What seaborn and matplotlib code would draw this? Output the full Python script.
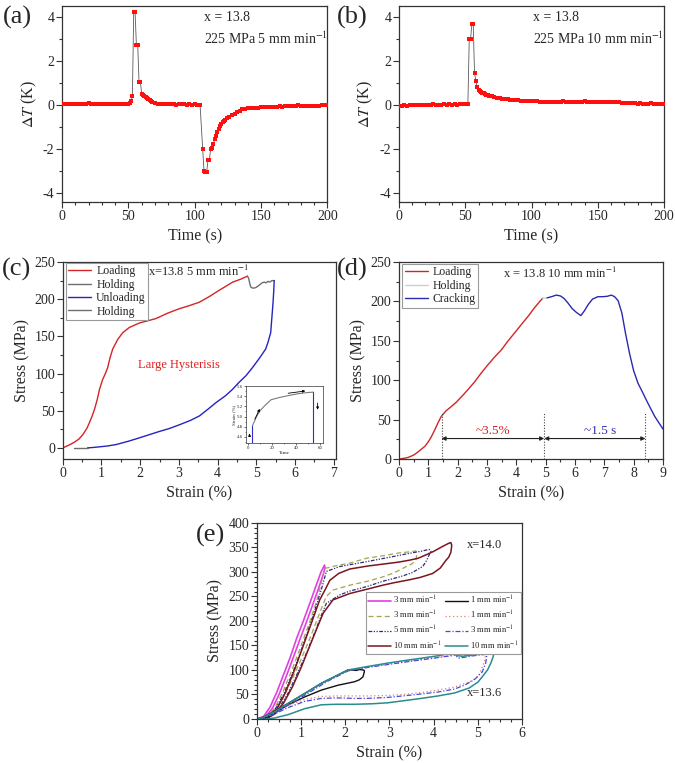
"""Multi-panel recreation: temperature change (a, b) and stress-strain loops (c, d, e)."""

import matplotlib

matplotlib.use("Agg")

import matplotlib.pyplot as plt
import seaborn as sns
from matplotlib.ticker import AutoMinorLocator, MultipleLocator

# ---------------- (a) x = 13.8, 225 MPa, 5 mm/min ----------------
a_time = [0, 2, 4, 6, 8, 10, 12, 14, 16, 18, 20, 22, 24, 26, 28, 30, 32, 34, 36, 38,
          40, 42, 44, 46, 48, 50,
          51, 52, 53, 54, 55, 56, 57, 58, 59, 60, 61, 62, 63, 64, 65, 66, 67, 68,
          70, 72, 74, 76, 78, 80, 82, 84, 86, 88, 90, 92, 94, 96, 98, 100, 102, 104,
          106, 107, 108, 109, 110, 111, 112, 113, 114, 115, 116, 117, 118, 119, 120,
          121, 122, 123, 124,
          126, 128, 130, 132, 134, 136, 138, 140, 142, 144, 146, 148, 150, 152, 154,
          156, 158, 160, 162, 164, 166, 168, 170, 172, 174, 176, 178, 180, 182, 184,
          186, 188, 190, 192, 194, 196, 198, 200]
a_dT = [0.03, 0.04, 0.04, 0.06, 0.07, 0.06, 0.07, 0.06, 0.05, 0.06, 0.08, 0.07, 0.06,
        0.05, 0.06, 0.05, 0.04, 0.05, 0.06, 0.04, 0.03, 0.05, 0.04, 0.03, 0.04, 0.05,
        0.09, 0.18, 0.40, 4.25, 4.25, 2.75, 2.75, 1.05, 1.05, 0.52, 0.47, 0.41, 0.36,
        0.31, 0.27, 0.23, 0.19, 0.16,
        0.11, 0.07, 0.05, 0.03, 0.04, 0.03, 0.04, 0.03, 0.02, 0.03, 0.04, 0.03, 0.02,
        0.03, 0.02, 0.03, 0.02, 0.02,
        -2.0, -3.0, -3.05, -3.05, -2.5, -2.5, -2.0, -1.95, -1.75, -1.55, -1.38, -1.22,
        -1.08, -0.96, -0.86, -0.78, -0.72, -0.66, -0.6,
        -0.52, -0.45, -0.38, -0.31, -0.25, -0.19, -0.16, -0.15, -0.14, -0.13, -0.12,
        -0.11, -0.10, -0.10, -0.09, -0.08, -0.08, -0.07, -0.07, -0.06, -0.07, -0.05,
        -0.05, -0.04, -0.03, -0.02, -0.01, -0.02, -0.03, -0.03, -0.04, -0.03, -0.02,
        -0.03, -0.02, -0.01, 0.0, -0.01]

# ---------------- (b) x = 13.8, 225 MPa, 10 mm/min ----------------
b_time = [0, 2, 4, 6, 8, 10, 12, 14, 16, 18, 20, 22, 24, 26, 28, 30, 32, 34, 36, 38,
          40, 42, 44, 46, 48, 50, 52,
          53, 54, 55, 56, 57, 58, 59, 60, 61, 62, 63, 64, 65, 66, 67, 68,
          70, 72, 74, 76, 78, 80, 82, 84, 86, 88, 90, 92, 94, 96, 98, 100,
          102, 104, 106, 108, 110, 112, 114, 116, 118, 120, 122, 124, 126, 128, 130,
          132, 134, 136, 138, 140, 142, 144, 146, 148, 150, 152, 154, 156, 158, 160,
          162, 164, 166, 168, 170, 172, 174, 176, 178, 180, 182, 184, 186, 188, 190,
          192, 194, 196, 198, 200]
b_dT = [-0.02, -0.02, -0.01, -0.02, -0.01, 0.0, -0.01, 0.0, 0.0, 0.01, 0.0, 0.01, 0.02,
        0.03, 0.02, 0.01, 0.02, 0.03, 0.02, 0.03, 0.02, 0.03, 0.02, 0.03, 0.04, 0.03, 0.05,
        3.0, 3.0, 3.7, 3.7, 1.45, 1.1, 0.82, 0.7, 0.65, 0.6, 0.57, 0.53, 0.5, 0.48,
        0.45, 0.43,
        0.4, 0.37, 0.34, 0.31, 0.29, 0.27, 0.26, 0.25, 0.24, 0.23, 0.22, 0.21, 0.2,
        0.19, 0.19, 0.18,
        0.17, 0.17, 0.16, 0.15, 0.16, 0.15, 0.16, 0.15, 0.14, 0.15, 0.16, 0.17, 0.16,
        0.15, 0.14, 0.15, 0.14, 0.15, 0.16, 0.17, 0.16, 0.15, 0.14, 0.13, 0.14, 0.13,
        0.12, 0.13, 0.12, 0.13, 0.14, 0.13, 0.12, 0.11, 0.10, 0.09, 0.10, 0.09, 0.08,
        0.07, 0.08, 0.07, 0.06, 0.07, 0.08, 0.07, 0.06, 0.07, 0.06, 0.05]

# ---------------- (c) x = 13.8, 5 mm/min cycle ----------------
c_load_strain = [0, 0.15, 0.3, 0.42, 0.52, 0.62, 0.69, 0.76, 0.82, 0.89, 0.95, 1.03,
                 1.1, 1.16, 1.22, 1.29, 1.36, 1.42, 1.55, 1.72, 1.85, 1.98, 2.2, 2.41,
                 2.7, 3.0, 3.25, 3.53, 3.8, 4.04, 4.2, 4.39, 4.6, 4.77]
c_load_stress = [0, 3.5, 7.6, 12, 18, 26, 34, 43, 52, 65, 79, 92, 100, 108, 121, 133,
                 140, 146, 155, 162, 165, 168, 171, 174, 181, 187, 191, 196, 204, 212,
                 217, 223, 227, 231]
c_hold1_strain = [4.77, 4.8, 4.83, 4.86, 4.9, 4.95, 5.0, 5.05, 5.1, 5.15, 5.2, 5.25,
                  5.3, 5.35, 5.4, 5.46]
c_hold1_stress = [231, 228, 221, 216, 215, 215, 216, 218, 220, 222, 223, 222, 224, 223,
                  225, 225]
c_unload_strain = [5.46, 5.45, 5.43, 5.4, 5.37, 5.3, 5.24, 5.15, 5.07, 4.9, 4.73, 4.55,
                   4.39, 4.2, 3.96, 3.75, 3.53, 3.3, 3.01, 2.75, 2.49, 2.25, 1.98, 1.7,
                   1.38, 1.15, 0.95, 0.8, 0.64]
c_unload_stress = [225, 212, 195, 175, 155, 142, 133, 126, 120, 108, 97, 88, 79, 70, 61,
                   52, 43, 37, 31, 26, 22, 18, 13.5, 9, 4.5, 2.5, 1.4, 0.6, 0]
c_hold2_strain = [0.64, 0.3]
c_hold2_stress = [0, 0]

# inset of (c): strain vs time
inset_time = [3.3, 6.8, 10, 13.6, 19, 27, 35.4, 42, 49, 54.5]
inset_strain = [4.81, 5.0, 5.12, 5.21, 5.33, 5.38, 5.42, 5.45, 5.47, 5.48]

# ---------------- (d) x = 13.8, 10 mm/min, cracking ----------------
d_load_strain = [0, 0.15, 0.31, 0.5, 0.65, 0.78, 0.88, 1.0, 1.1, 1.22, 1.33, 1.44, 1.6,
                 1.78, 1.95, 2.13, 2.35, 2.58, 2.8, 3.03, 3.25, 3.49, 3.7, 3.94, 4.2,
                 4.4, 4.6, 4.8, 4.9]
d_load_stress = [0, 0.8, 2, 5, 9, 13, 16, 22, 28, 37, 46, 54, 61, 66.5, 72, 79, 88, 98,
                 109, 119.5, 129, 138.5, 149, 160, 172, 181, 191, 200, 204]
d_hold_strain = [4.9, 5.05]
d_hold_stress = [204, 204.5]
d_crack_strain = [5.05, 5.2, 5.36, 5.5, 5.62, 5.76, 5.9, 6.05, 6.2, 6.32, 6.45, 6.6,
                  6.78, 6.95, 7.1, 7.24, 7.35, 7.47, 7.6, 7.72, 7.86, 8.0, 8.15, 8.3,
                  8.43, 8.58, 8.72, 8.86, 9.0]
d_crack_stress = [204.5, 206, 208, 207, 204, 198, 191, 186, 182, 188, 196, 203, 206, 206,
                  206.5, 208, 206, 201, 185, 160, 134, 112, 96, 85, 75, 64, 54, 46, 38]
d_marks = [1.45, 4.95, 8.4]

# ---------------- (e) rate dependence, x = 14.0 and x = 13.6 ----------------
e_mag_strain = [0, 0.15, 0.3, 0.45, 0.6, 0.75, 0.9, 1.05, 1.2, 1.35, 1.45, 1.53, 1.54,
                1.5, 1.4, 1.25, 1.1, 0.95, 0.8, 0.65, 0.5, 0.35, 0.2, 0.05]
e_mag_stress = [0, 5, 25, 55, 90, 125, 165, 200, 237, 275, 300, 314, 308, 295, 268, 230,
                193, 157, 120, 84, 50, 22, 5, 0]
e_olive_strain = [0, 0.2, 0.4, 0.6, 0.8, 1.0, 1.2, 1.35, 1.45, 1.53, 1.8, 2.1, 2.48,
                  2.85, 3.23, 3.45, 3.6,
                  3.62, 3.6, 3.5, 3.38, 3.1, 2.85, 2.5, 2.1, 1.72, 1.57, 1.47, 1.35, 1.2,
                  1.0, 0.8, 0.6, 0.4, 0.2, 0.08]
e_olive_stress = [0, 3, 22, 58, 102, 150, 200, 240, 275, 307, 313, 318, 328, 333, 339,
                  341, 343,
                  338, 324, 316, 311, 298, 290, 281, 273, 263, 250, 228, 200, 165, 122,
                  82, 45, 17, 3, 0]
e_navy_strain = [0, 0.2, 0.4, 0.6, 0.8, 1.0, 1.2, 1.35, 1.47, 1.57, 1.87, 2.48, 3.0,
                 3.45, 3.7, 3.9,
                 3.94, 3.9, 3.82, 3.75, 3.5, 3.23, 2.85, 2.48, 2.1, 1.87, 1.57, 1.45, 1.3,
                 1.1, 0.9, 0.7, 0.5, 0.3, 0.12]
e_navy_stress = [0, 2, 18, 50, 92, 140, 192, 233, 268, 301, 311, 321, 330, 338, 342, 346,
                 342, 335, 320, 311, 298, 290, 281, 270, 261, 253, 236, 210, 175, 130, 90,
                 52, 22, 5, 0]
e_dred_strain = [0, 0.25, 0.45, 0.65, 0.85, 1.05, 1.25, 1.42, 1.55, 1.65, 1.85, 2.1,
                 2.5, 2.85, 3.2, 3.45, 3.65, 3.83, 4.0, 4.2, 4.33, 4.39,
                 4.41, 4.39, 4.34, 4.28, 4.15, 3.98, 3.7, 3.45, 3.1, 2.85, 2.5, 2.1, 1.72,
                 1.5, 1.38, 1.2, 1.0, 0.8, 0.6, 0.4, 0.2]
e_dred_stress = [0, 3, 20, 55, 100, 150, 200, 243, 265, 283, 297, 306, 312, 316, 320,
                 324, 328, 335, 342, 352, 358, 360,
                 354, 340, 330, 324, 308, 297, 289, 284, 278, 273, 265, 256, 243, 216,
                 190, 150, 105, 65, 32, 10, 0]
e_black_strain = [0, 0.1, 0.4, 0.71, 1.08, 1.46, 1.84, 2.06, 2.15, 2.25, 2.32, 2.4,
                  2.43, 2.43, 2.4, 2.32, 2.21, 2.0, 1.84, 1.46, 1.08, 0.71, 0.33, 0.1]
e_black_stress = [0, 2, 16, 32, 52, 73, 90, 100, 100, 99, 101, 100, 99, 96, 86, 80, 76,
                  72, 69, 59, 45, 29, 8, 0]
e_dot_strain = [0, 0.4, 0.8, 1.2, 1.6, 2.06, 2.5, 2.96, 3.5, 4.0, 4.45, 4.55, 4.6, 4.8,
                5.0, 5.15,
                5.17, 5.15, 5.08, 5.0, 4.8, 4.47, 4.1, 3.72, 3.3, 2.96, 2.5, 2.21, 1.8,
                1.46, 1.08, 0.7, 0.35, 0.05]
e_dot_stress = [0, 14, 35, 57, 79, 99, 106, 112, 119, 125, 131, 129, 128, 130, 132, 133,
                128, 118, 100, 86, 75, 65, 59, 54, 50, 48, 47, 47, 47, 46, 40, 27, 10, 0]
e_dashdot_strain = [0, 0.4, 0.8, 1.2, 1.6, 2.06, 2.5, 2.96, 3.5, 4.0, 4.4, 4.5, 4.55,
                    4.7, 4.9, 5.1, 5.2,
                    5.2, 5.18, 5.1, 4.92, 4.7, 4.47, 4.1, 3.72, 3.3, 2.96, 2.5, 2.21, 1.8,
                    1.46, 1.08, 0.7, 0.35, 0.05]
e_dashdot_stress = [0, 13, 33, 55, 77, 98, 105, 111, 118, 124, 129, 131, 124, 126, 129,
                    131, 132,
                    128, 114, 96, 80, 69, 61, 55, 51, 47, 44, 42, 42, 43, 42, 36, 23, 8, 0]
e_teal_strain = [0, 0.1, 0.4, 0.71, 1.08, 1.46, 1.84, 2.06, 2.5, 2.96, 3.4, 3.72, 4.1,
                 4.45, 4.52, 4.56, 4.65, 4.85, 5.1, 5.33, 5.36,
                 5.35, 5.3, 5.22, 5.1, 5.0, 4.8, 4.47, 4.1, 3.72, 3.3, 2.96, 2.6, 2.21,
                 1.8, 1.46, 1.08, 0.71, 0.4, 0.18]
e_teal_stress = [0, 1, 15, 32, 52, 73, 90, 100, 107, 114, 120, 124, 129, 135, 137, 129,
                 128, 130, 133, 135, 135,
                 128, 115, 100, 86, 75, 63, 53, 47, 42, 37, 33, 31, 30, 30, 29, 21, 9, 2, 0]

sns.set_theme(style="ticks")
plt.rcParams["font.family"] = ["Liberation Serif", "DejaVu Serif"]
plt.rcParams["mathtext.fontset"] = "stix"
plt.rcParams["axes.unicode_minus"] = False

SPINE = "#333333"


def _frame(ax, xlim, ylim, xstep, ystep, xminor=2, yminor=2, labelsize=10):
    """Box frame with outward ticks on bottom/left, Origin style."""
    ax.set_xlim(*xlim)
    ax.set_ylim(*ylim)
    ax.xaxis.set_major_locator(MultipleLocator(xstep))
    ax.yaxis.set_major_locator(MultipleLocator(ystep))
    ax.xaxis.set_minor_locator(AutoMinorLocator(xminor))
    ax.yaxis.set_minor_locator(AutoMinorLocator(yminor))
    for spine in ax.spines.values():
        spine.set_visible(True)
        spine.set_color(SPINE)
        spine.set_linewidth(0.9)
    ax.tick_params(which="both", direction="out", top=False, right=False,
                   bottom=True, left=True, color=SPINE, width=0.8,
                   labelsize=labelsize, pad=1.5)
    ax.tick_params(which="major", length=4)
    ax.tick_params(which="minor", length=2)
    ax.grid(False)


def _curve(ax, x, y, color, lw=1.0, ls="-", label=None):
    """Draw one ordered branch with seaborn and return its Line2D."""
    sns.lineplot(x=x, y=y, sort=False, estimator=None, color=color,
                 linewidth=lw, linestyle=ls, ax=ax)
    line = ax.lines[-1]
    if label is not None:
        line.set_label(label)
    return line


def _legend(ax, handles, **kws):
    leg = ax.legend(handles=handles, frameon=True, fancybox=False, framealpha=1,
                    edgecolor="#9a9a9a", **kws)
    leg.get_frame().set_linewidth(0.8)
    return leg


def _dt_panel(ax, time, dT, line1, line2, text_x):
    _curve(ax, time, dT, "#5a5a5a", lw=0.6)
    sns.scatterplot(x=time, y=dT, marker="s", s=12, color="#ff1010", linewidth=0,
                    ax=ax, zorder=3)
    _frame(ax, (0, 200), (-4.41, 4.5), 50, 2, xminor=5, yminor=2)
    ax.set_xlabel("Time (s)", fontsize=11.5, labelpad=4)
    ax.set_ylabel(r"$\Delta\mathit{T}$ (K)", fontsize=11.5, labelpad=3)
    ax.text(text_x, 4.0, line1, fontsize=10, va="center")
    ax.text(text_x, 3.0, line2, fontsize=10, va="center")


fig = plt.figure(figsize=(6.75, 7.63), dpi=100)

ax_a = fig.add_axes([0.092, 0.735, 0.393, 0.257])
ax_b = fig.add_axes([0.591, 0.735, 0.393, 0.257])
ax_c = fig.add_axes([0.093, 0.3984, 0.4044, 0.2582])
ax_d = fig.add_axes([0.5911, 0.3984, 0.3911, 0.2582])
ax_e = fig.add_axes([0.3807, 0.0577, 0.3926, 0.2569])

# (a) and (b)
_dt_panel(ax_a, a_time, a_dT, "x = 13.8", r"225 MPa 5 mm min$^{-1}$", 107)
_dt_panel(ax_b, b_time, b_dT, "x = 13.8", r"225 MPa 10 mm min$^{-1}$", 101)

# (c)
h_load = _curve(ax_c, c_load_strain, c_load_stress, "#d42424", 1.0, label="Loading")
h_hold = _curve(ax_c, c_hold1_strain, c_hold1_stress, "#6e6e6e", 1.0, label="Holding")
h_unl = _curve(ax_c, c_unload_strain, c_unload_stress, "#2424c0", 1.0, label="Unloading")
h_hold2 = _curve(ax_c, c_hold2_strain, c_hold2_stress, "#6e6e6e", 1.0, label="Holding")
_frame(ax_c, (0, 7.05), (-15, 250), 1, 50)
ax_c.set_xlabel("Strain (%)", fontsize=11.5, labelpad=4)
ax_c.set_ylabel("Stress (MPa)", fontsize=11.5, labelpad=3)
_legend(ax_c, [h_load, h_hold, h_unl, h_hold2], loc="upper left",
        bbox_to_anchor=(0.01, 0.995), borderaxespad=0, fontsize=8.5,
        handlelength=2.0, labelspacing=0.12, borderpad=0.2, handletextpad=0.4)
ax_c.text(2.19, 237, r"x=13.8 5 mm min$^{-1}$", fontsize=9, va="center")
ax_c.text(3.0, 112, "Large Hysterisis", fontsize=9, color="#e02020",
          ha="center", va="center")

# inset in (c)
ins = fig.add_axes([0.3644, 0.4194, 0.1141, 0.0747])
_curve(ins, inset_time, inset_strain, "#7a7a7a", 0.8)
_curve(ins, [inset_time[0], inset_time[0]], [4.48, inset_strain[0]], "#3030c0", 0.8)
_curve(ins, [inset_time[-1], inset_time[-1]], [inset_strain[-1], 4.48], "#3030c0", 0.8)
_frame(ins, (-2, 62.5), (4.48, 5.6), 20, 0.2, xminor=2, yminor=2, labelsize=3.5)
ins.tick_params(which="major", length=1.5, pad=0.6, width=0.5)
ins.tick_params(which="minor", length=0.8, width=0.4)
for spine in ins.spines.values():
    spine.set_linewidth(0.5)
ins.set_xlabel("Time", fontsize=3.8, labelpad=0.5)
ins.set_ylabel("Strain (%)", fontsize=3.5, labelpad=0.5)
arrow = dict(arrowstyle="-|>", color="black", lw=0.6, mutation_scale=3.5)
ins.annotate("", xy=(1.0, 4.72), xytext=(1.0, 4.55), arrowprops=arrow)
ins.annotate("", xy=(10.5, 5.2), xytext=(4.5, 4.9), arrowprops=arrow)
ins.annotate("", xy=(50, 5.51), xytext=(31, 5.45), arrowprops=arrow)
ins.annotate("", xy=(58, 5.08), xytext=(58, 5.32), arrowprops=arrow)

# (d)
h_dl = _curve(ax_d, d_load_strain, d_load_stress, "#d42424", 1.0, label="Loading")
h_dh = _curve(ax_d, d_hold_strain, d_hold_stress, "#cfcfcf", 1.0, label="Holding")
h_dc = _curve(ax_d, d_crack_strain, d_crack_stress, "#2a2ab0", 1.0, label="Cracking")
_frame(ax_d, (0, 9), (0, 250), 1, 50)
ax_d.set_xlabel("Strain (%)", fontsize=11.5, labelpad=4)
ax_d.set_ylabel("Stress (MPa)", fontsize=11.5, labelpad=3)
_legend(ax_d, [h_dl, h_dh, h_dc], loc="upper left", bbox_to_anchor=(0.012, 0.99),
        borderaxespad=0, fontsize=8.5, handlelength=2.0, labelspacing=0.12,
        borderpad=0.2, handletextpad=0.4)
ax_d.text(3.55, 236, r"x = 13.8 10 mm min$^{-1}$", fontsize=9, va="center")
for xm in d_marks:
    ax_d.plot([xm, xm], [0, 58], color="#444444", lw=0.8, ls=(0, (1, 1.5)))
both = dict(arrowstyle="<|-|>", color="#222222", lw=0.8, mutation_scale=6,
            shrinkA=0, shrinkB=0)
ax_d.annotate("", xy=(d_marks[0], 26), xytext=(d_marks[1], 26), arrowprops=both)
ax_d.annotate("", xy=(d_marks[1], 26), xytext=(d_marks[2], 26), arrowprops=both)
ax_d.text(3.2, 36, "~3.5%", fontsize=9.5, color="#d02020", ha="center", va="center")
ax_d.text(6.84, 36, "~1.5 s", fontsize=9.5, color="#3030b0", ha="center", va="center")

# (e)
h1 = _curve(ax_e, e_mag_strain, e_mag_stress, "#e040e0", 1.2, label=r"3 mm min$^{-1}$")
h2 = _curve(ax_e, e_olive_strain, e_olive_stress, "#a4a454", 0.9, (0, (4, 2.5)),
            label=r"3 mm min$^{-1}$")
h3 = _curve(ax_e, e_navy_strain, e_navy_stress, "#2a2a80", 0.9,
            (0, (3, 1.2, 1, 1.2, 1, 1.2)), label=r"5 mm min$^{-1}$")
h4 = _curve(ax_e, e_dred_strain, e_dred_stress, "#7a1620", 1.1, label=r"10 mm min$^{-1}$")
h5 = _curve(ax_e, e_black_strain, e_black_stress, "#111111", 1.0, label=r"1 mm min$^{-1}$")
h6 = _curve(ax_e, e_dot_strain, e_dot_stress, "#e08070", 0.9, (0, (1, 2)),
            label=r"1 mm min$^{-1}$")
h7 = _curve(ax_e, e_dashdot_strain, e_dashdot_stress, "#4848e0", 0.9,
            (0, (4, 1.5, 1, 1.5)), label=r"3 mm min$^{-1}$")
h8 = _curve(ax_e, e_teal_strain, e_teal_stress, "#2a8c8c", 1.1, label=r"10 mm min$^{-1}$")
_frame(ax_e, (0, 6), (0, 400), 1, 50, xminor=4, yminor=5)
ax_e.set_xlabel("Strain (%)", fontsize=11.5, labelpad=4)
ax_e.set_ylabel("Stress (MPa)", fontsize=11.5, labelpad=4)
_legend(ax_e, [h1, h2, h3, h4, h5, h6, h7, h8], ncol=2, loc="upper right",
        bbox_to_anchor=(0.995, 0.648), borderaxespad=0, fontsize=6.2,
        handlelength=2.6, labelspacing=0.35, borderpad=0.25, handletextpad=0.3,
        columnspacing=0.4)
ax_e.text(4.76, 355, "x=14.0", fontsize=9, va="center")
ax_e.text(4.76, 54, "x=13.6", fontsize=9, va="center")

# panel letters
for label, (px, py) in {"(a)": (3, 17), "(b)": (337, 17), "(c)": (2, 269),
                        "(d)": (337, 269), "(e)": (196, 535)}.items():
    fig.text(px / 675, 1 - py / 763, label, fontsize=19, ha="left", va="center")

fig.savefig("out.png", dpi=100)
plt.close(fig)
